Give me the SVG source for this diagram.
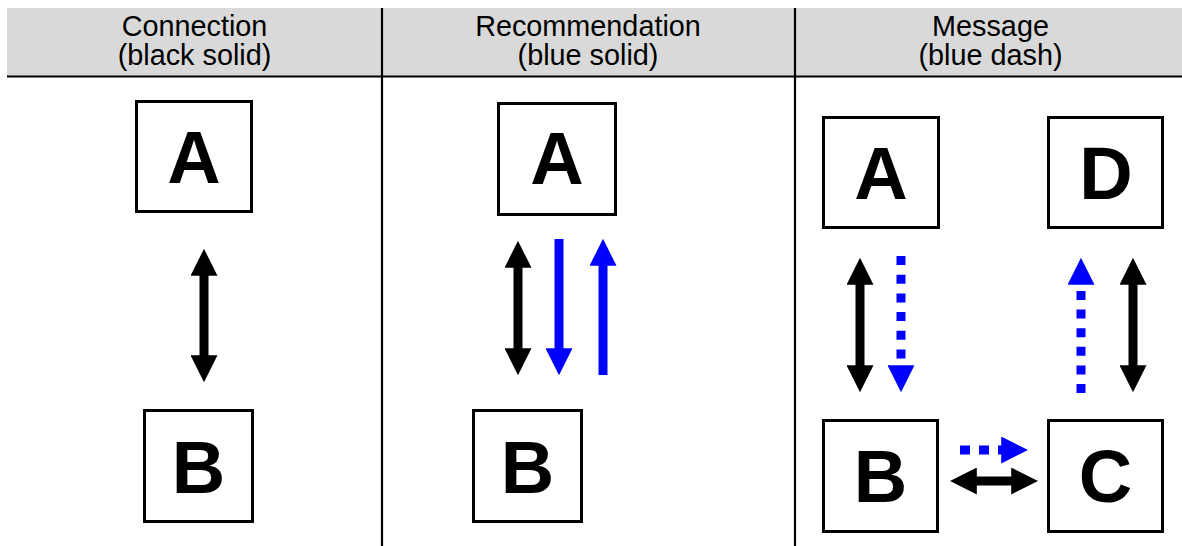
<svg xmlns="http://www.w3.org/2000/svg" width="1182" height="546" viewBox="0 0 1182 546">
<style>
.hdr{font-family:"Liberation Sans",Arial,sans-serif;font-size:28.8px;fill:#000;text-anchor:middle}
.box{fill:#fff;stroke:#000;stroke-width:3}
.lbl{font-family:"Liberation Sans",Arial,sans-serif;font-size:74px;font-weight:bold;fill:#000;text-anchor:middle}
.grid{stroke:#000;stroke-width:2.2;fill:none}
.blk{stroke:#000;stroke-width:9;fill:none}
.blu{stroke:#0000ff;stroke-width:9;fill:none}
.dash{stroke-dasharray:9 9.7}
</style>
<defs>
<marker id="hb" viewBox="0 0 10 10" refX="0.3" refY="5" markerWidth="3" markerHeight="3" orient="auto-start-reverse" markerUnits="strokeWidth">
<path d="M0,0 L10,5 L0,10 z" fill="#000"/>
</marker>
<marker id="hu" viewBox="0 0 10 10" refX="0.3" refY="5" markerWidth="3" markerHeight="3" orient="auto-start-reverse" markerUnits="strokeWidth">
<path d="M0,0 L10,5 L0,10 z" fill="#0000ff"/>
</marker>
</defs>
<g id="header">
<rect x="7" y="8" width="1175" height="68" fill="#d9d9d9"/>
<text class="hdr" x="194.5" y="36">Connection</text>
<text class="hdr" x="194.5" y="65">(black solid)</text>
<text class="hdr" x="588" y="36">Recommendation</text>
<text class="hdr" x="588" y="65">(blue solid)</text>
<text class="hdr" x="990.5" y="36">Message</text>
<text class="hdr" x="990.5" y="65">(blue dash)</text>
</g>
<g id="grid">
<line class="grid" x1="7" y1="76.5" x2="1182" y2="76.5"/>
<line class="grid" x1="382" y1="8" x2="382" y2="546"/>
<line class="grid" x1="795" y1="8" x2="795" y2="546"/>
</g>
<g id="c1-A"><rect class="box" x="136.5" y="101.5" width="115" height="110"/><text class="lbl" x="194" y="183">A</text></g>
<g id="c1-B"><rect class="box" x="144.5" y="410.5" width="108" height="111"/><text class="lbl" x="198.5" y="493">B</text></g>
<g id="c2-A"><rect class="box" x="498.5" y="103.5" width="117" height="111"/><text class="lbl" x="557" y="184">A</text></g>
<g id="c2-B"><rect class="box" x="473.5" y="410.5" width="108" height="111"/><text class="lbl" x="527.5" y="493">B</text></g>
<g id="c3-A"><rect class="box" x="823.5" y="117.5" width="115" height="110"/><text class="lbl" x="881" y="199">A</text></g>
<g id="c3-D"><rect class="box" x="1048.5" y="117.5" width="114" height="110"/><text class="lbl" x="1106" y="199">D</text></g>
<g id="c3-B"><rect class="box" x="823.5" y="420.5" width="114" height="111"/><text class="lbl" x="880.5" y="502">B</text></g>
<g id="c3-C"><rect class="box" x="1048.5" y="420.5" width="114" height="111"/><text class="lbl" x="1105.5" y="502">C</text></g>
<g id="connectors">
<line class="blk" x1="204" y1="275" x2="204" y2="356" marker-start="url(#hb)" marker-end="url(#hb)"/>
<line class="blk" x1="518" y1="267" x2="518" y2="349" marker-start="url(#hb)" marker-end="url(#hb)"/>
<line class="blu" x1="559" y1="239" x2="559" y2="349" marker-end="url(#hu)"/>
<line class="blu" x1="603" y1="375" x2="603" y2="265" marker-end="url(#hu)"/>
<line class="blk" x1="860" y1="284" x2="860" y2="366" marker-start="url(#hb)" marker-end="url(#hb)"/>
<line class="blu dash" x1="901" y1="256" x2="901" y2="366" marker-end="url(#hu)"/>
<line class="blu dash" x1="1081" y1="393" x2="1081" y2="284" style="stroke-dasharray:9 9.6" marker-end="url(#hu)"/>
<line class="blk" x1="1133" y1="284" x2="1133" y2="366" marker-start="url(#hb)" marker-end="url(#hb)"/>
<line class="blu dash" x1="960" y1="450" x2="1002" y2="450" style="stroke-dasharray:10 9" marker-end="url(#hu)"/>
<line class="blk" x1="976" y1="481" x2="1012" y2="481" marker-start="url(#hb)" marker-end="url(#hb)"/>
</g>
</svg>
